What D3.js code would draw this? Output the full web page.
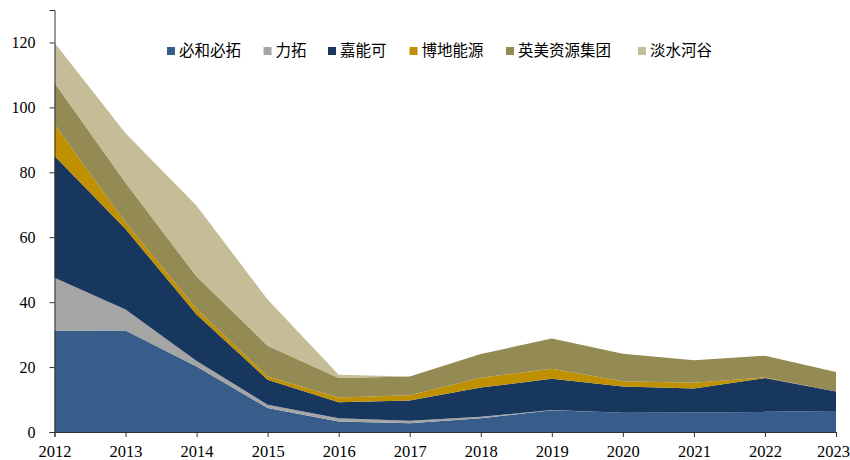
<!DOCTYPE html>
<html>
<head>
<meta charset="utf-8">
<script src="https://cdn.jsdelivr.net/npm/d3@7"></script>
<style>
  body { margin: 0; background: #fff; }
  svg { display: block; }
</style>
</head>
<body>
<div id="chart"></div>
<script>
// years on the x axis
const years = [2012, 2013, 2014, 2015, 2016, 2017, 2018, 2019, 2020, 2021, 2022, 2023];

// series, bottom to top
const seriesNames = ["必和必拓", "力拓", "嘉能可", "博地能源", "英美资源集团", "淡水河谷"];
const bhp      = [31.2, 31.3, 20.2, 7.4, 3.2, 2.7, 4.2, 6.7, 5.9, 6.0, 6.2, 6.5];
const rio      = [16.3, 6.4, 1.7, 1.0, 1.0, 0.8, 0.5, 0.1, 0, 0, 0, 0];
const glencore = [37.5, 24.8, 14.3, 7.7, 5.0, 6.2, 9.0, 9.6, 8.1, 7.4, 10.4, 6.0];
const peabody  = [9.7, 2.0, 1.7, 1.0, 1.4, 1.6, 3.0, 3.1, 1.6, 1.8, 0.2, 0];
const anglo    = [12.9, 12.3, 10.0, 9.5, 6.0, 5.8, 7.3, 9.3, 8.5, 6.9, 6.7, 6.0];
const vale     = [12.3, 15.2, 21.8, 14.2, 1.0, 0, 0, 0, 0, 0, 0, 0];

const yTicks = [0, 20, 40, 60, 80, 100, 120];
const colors = ["#385d8a", "#a5a5a5", "#17375e", "#bf9000", "#948a54", "#c4bd97"];

const width = 850, height = 460;
const margin = { top: 10, right: 14, bottom: 28, left: 54.5 };
const tickFont = "'Liberation Serif', 'Times New Roman', serif";

const svg = d3.select("#chart").append("svg")
  .attr("width", width)
  .attr("height", height);

const seriesValues = [bhp, rio, glencore, peabody, anglo, vale];
const rows = years.map((yr, i) => {
  const r = { year: yr };
  seriesNames.forEach((n, k) => { r[n] = seriesValues[k][i]; });
  return r;
});

const x = d3.scaleLinear()
  .domain(d3.extent(years))
  .range([margin.left, width - margin.right]);

const y = d3.scaleLinear()
  .domain([0, 130])
  .range([height - margin.bottom, margin.top]);

const stacked = d3.stack().keys(seriesNames)(rows);

const area = d3.area()
  .x(d => x(d.data.year))
  .y0(d => y(d[0]))
  .y1(d => y(d[1]));

svg.append("g")
  .selectAll("path")
  .data(stacked)
  .join("path")
  .attr("fill", (d, i) => colors[i])
  .attr("d", area);

// x axis
const xAxis = svg.append("g")
  .attr("transform", `translate(0,${y(0)})`)
  .call(d3.axisBottom(x).tickValues(years).tickFormat(d3.format("d")).tickSizeOuter(0).tickSize(5));
xAxis.select(".domain").attr("stroke", "#333");
xAxis.selectAll(".tick line").attr("stroke", "#333");
xAxis.selectAll("text")
  .attr("font-family", tickFont)
  .attr("font-size", 16.5)
  .attr("fill", "#000")
  .attr("y", 25)
  .attr("dy", 0);
// keep the last year inside the page edge
xAxis.selectAll(".tick text")
  .filter(d => d === years[years.length - 1])
  .attr("x", -3);

// y axis
const yAxis = svg.append("g")
  .attr("transform", `translate(${margin.left},0)`)
  .call(d3.axisLeft(y).tickValues(yTicks).tickSizeOuter(0).tickSize(5).tickPadding(14));
yAxis.select(".domain").attr("stroke", "#333");
yAxis.selectAll(".tick line").attr("stroke", "#333");
yAxis.selectAll("text")
  .attr("font-family", tickFont)
  .attr("font-size", 16)
  .attr("fill", "#000");

// legend
const legendX = [167, 263.5, 328, 409.5, 506, 638];
const legend = svg.append("g");
seriesNames.forEach((n, i) => {
  const g = legend.append("g").attr("transform", `translate(${legendX[i]},51)`);
  g.append("rect")
    .attr("x", 0).attr("y", -4)
    .attr("width", 8).attr("height", 8)
    .attr("fill", colors[i]);
  g.append("text")
    .attr("x", 12)
    .attr("dy", "0.35em")
    .attr("font-family", "'Noto Sans CJK SC', sans-serif")
    .attr("font-size", 15.5)
    .attr("fill", "#000")
    .text(n);
});
</script>
</body>
</html>
